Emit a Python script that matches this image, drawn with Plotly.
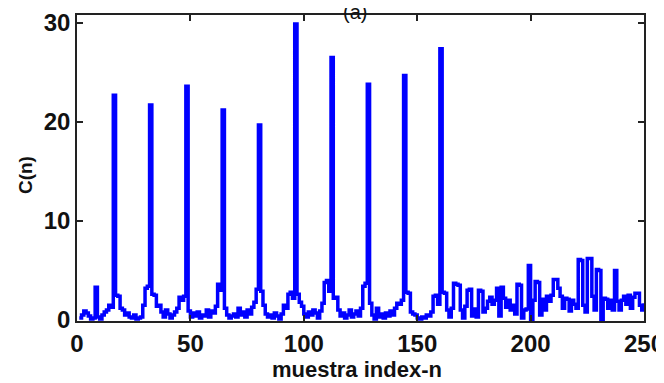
import plotly.graph_objects as go

# sample index n = 1..250
n_index = list(range(1, 251))

# C(n) values, in blocks of 16 samples
c_1_16 = [0.2, 0.5, 0.9, 0.7, 0.4, 0.1, 0.2, 3.3, 0.3, 0.1, 0.5, 0.8, 1.0, 1.5, 1.3, 22.7]
c_17_32 = [2.5, 2.4, 1.2, 1.0, 0.5, 0.7, 0.3, 0.2, 0.5, 0.1, 0.2, 0.3, 1.5, 3.2, 3.4, 21.7]
c_33_48 = [2.6, 2.5, 1.4, 1.5, 0.8, 0.3, 1.0, 0.6, 0.2, 0.5, 0.8, 1.2, 2.3, 2.0, 2.4, 23.6]
c_49_64 = [0.9, 0.3, 0.7, 0.4, 0.8, 0.2, 0.5, 0.4, 1.0, 0.3, 0.9, 0.7, 1.4, 3.6, 3.0, 21.2]
c_65_80 = [1.2, 0.5, 0.2, 0.4, 0.6, 0.3, 1.2, 0.5, 0.8, 0.3, 1.0, 0.6, 1.3, 1.8, 3.1, 19.7]
c_81_96 = [2.9, 1.5, 0.6, 0.3, 0.5, 0.2, 0.7, 0.4, 0.1, 0.6, 1.5, 1.2, 2.6, 2.8, 2.2, 29.9]
c_97_112 = [2.6, 1.8, 1.4, 0.6, 0.3, 0.8, 0.5, 1.0, 0.7, 0.2, 0.9, 1.7, 3.8, 4.0, 2.9, 26.5]
c_113_128 = [2.2, 2.3, 1.0, 0.4, 0.7, 0.2, 0.5, 1.0, 0.3, 0.6, 0.9, 0.4, 1.2, 3.4, 3.7, 23.8]
c_129_144 = [1.7, 0.5, 0.1, 1.2, 0.3, 0.6, 0.2, 0.7, 0.4, 0.9, 0.5, 1.2, 1.7, 1.6, 2.0, 24.7]
c_145_160 = [2.8, 2.7, 0.8, 0.6, 0.5, 0.2, 0.1, 0.3, 0.2, 0.5, 0.4, 0.8, 2.4, 2.5, 1.6, 27.4]
c_161_250 = [2.8, 2.7, 1.0, 0.3, 1.2, 3.7, 3.6, 3.5, 1.0, 0.2,
             1.4, 3.0, 3.1, 0.4, 1.1, 0.3, 3.0, 2.9, 0.8, 1.2,
             1.9, 2.3, 1.6, 2.0, 3.2, 0.4, 3.3, 2.2, 1.3, 2.0,
             1.0, 1.5, 0.6, 3.6, 3.5, 0.2, 1.0, 1.1, 5.5, 0.0,
             2.0, 3.9, 3.8, 0.5, 2.1, 1.0, 2.4, 1.9, 2.5, 4.1,
             4.1, 3.2, 2.4, 1.2, 2.2, 2.1, 0.9, 2.0, 1.6, 1.2,
             6.1, 6.0, 1.5, 0.8, 6.2, 6.2, 2.4, 1.0, 5.1, 5.0,
             0.0, 2.2, 2.1, 1.2, 2.0, 1.0, 5.0, 1.9, 1.0, 2.0,
             2.4, 1.6, 2.5, 1.2, 2.3, 2.7, 2.7, 1.5, 1.0, 1.7]

c_values = (c_1_16 + c_17_32 + c_33_48 + c_49_64 + c_65_80 + c_81_96
            + c_97_112 + c_113_128 + c_129_144 + c_145_160 + c_161_250)

x_ticks = [0, 50, 100, 150, 200, 250]
y_ticks = [0, 10, 20, 30]

FONT = "Liberation Sans, Arial, sans-serif"

fig = go.Figure()
fig.add_trace(go.Scatter(
    x=n_index, y=c_values, mode="lines",
    line=dict(color="#0000ff", width=3.5, shape="hv"),
    showlegend=False,
))

axis_common = dict(
    showgrid=False, zeroline=False, showline=True, linecolor="#222222",
    linewidth=1.5, mirror="ticks", ticks="inside", ticklen=6, tickwidth=1.5,
    tickcolor="#222222", automargin=False, ticklabeloverflow="allow",
    tickfont=dict(family=FONT, size=24, color="#111111", weight="bold"),
)

fig.update_xaxes(range=[0, 250], tickvals=x_ticks, **axis_common)
fig.update_yaxes(range=[-0.1, 30.8], tickvals=y_ticks, **axis_common)

# axis titles and panel label
fig.add_annotation(text="muestra index-n", xref="paper", yref="paper",
                   x=0.494, y=0, yanchor="middle", yshift=-48, showarrow=False,
                   font=dict(family=FONT, size=22, color="#111111", weight="bold"))
fig.add_annotation(text="C(n)", xref="paper", yref="paper", textangle=-90,
                   x=0, y=0.477, xanchor="center", xshift=-52, showarrow=False,
                   font=dict(family=FONT, size=19, color="#111111", weight="bold"))
fig.add_annotation(text="(a)", xref="paper", yref="paper", x=0.49, y=1.0,
                   yanchor="bottom", yshift=-10, showarrow=False,
                   font=dict(family=FONT, size=20, color="#111111"))

# the page body adds an 8px offset, so the figure is 8px smaller than the window
fig.update_layout(
    width=656, height=375,
    margin=dict(l=69, r=20, t=7, b=62),
    paper_bgcolor="white", plot_bgcolor="white",
)

fig.write_html("out.html")
